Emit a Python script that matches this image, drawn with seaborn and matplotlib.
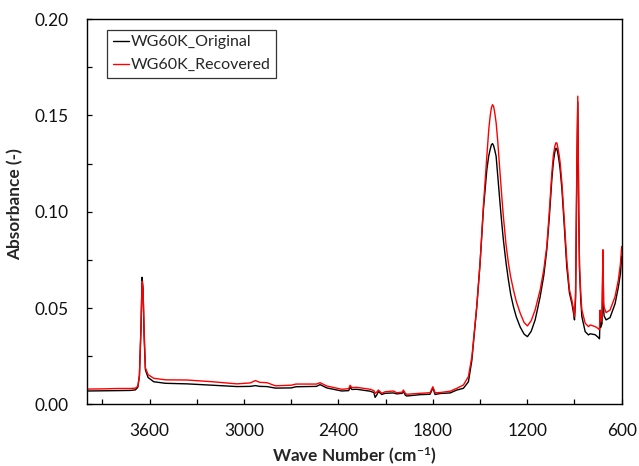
import matplotlib
matplotlib.use("Agg")
import matplotlib.pyplot as plt
import seaborn as sns
import pandas as pd

# FTIR spectra on a shared wave-number grid (cm-1)
wave_number = [
    4000, 3900, 3800, 3720, 3690, 3675, 3665, 3655, 3648, 3642, 3635, 3627,
    3610, 3574, 3500, 3362, 3200, 3045, 2960, 2928, 2900, 2854, 2801, 2700,
    2670, 2540, 2517, 2474, 2379, 2335, 2326, 2315, 2284, 2199, 2175, 2167,
    2156, 2146, 2125, 2104, 2051, 2030, 1995, 1987, 1975, 1966, 1881, 1818,
    1800, 1786, 1754, 1690, 1648, 1606, 1574, 1552, 1521, 1500, 1479, 1457,
    1445, 1436, 1428, 1421, 1414, 1406, 1398, 1388, 1373, 1362, 1352, 1335,
    1320, 1305, 1288, 1270, 1245, 1220, 1199, 1175, 1150, 1135, 1118, 1095,
    1076, 1060, 1044, 1034, 1025, 1018, 1012, 1005, 998, 991, 980, 965, 949,
    932, 917, 905, 900, 893, 885, 879, 873, 868, 860, 853, 832, 811, 800,
    768, 745, 741, 737, 733, 725, 719, 715, 712, 699, 674, 642, 621, 608, 600,
]

# Absorbance of the original sample
abs_original = [
    0.0070, 0.0071, 0.0072, 0.0073, 0.0076, 0.0090, 0.0150, 0.0400, 0.0660,
    0.0600, 0.0350, 0.0180, 0.0140, 0.0118, 0.0110, 0.0107, 0.0100, 0.0093,
    0.0094, 0.0098, 0.0094, 0.0093, 0.0085, 0.0086, 0.0092, 0.0094, 0.0103,
    0.0086, 0.0070, 0.0072, 0.0090, 0.0078, 0.0079, 0.0069, 0.0062, 0.0037,
    0.0050, 0.0068, 0.0052, 0.0058, 0.0060, 0.0055, 0.0058, 0.0068, 0.0048,
    0.0044, 0.0051, 0.0053, 0.0086, 0.0052, 0.0057, 0.0060, 0.0075, 0.0084,
    0.0118, 0.0231, 0.0508, 0.0734, 0.1011, 0.1219,
    0.1290, 0.1323, 0.1348, 0.1354, 0.1343, 0.1318, 0.1288, 0.1190, 0.1043,
    0.0940, 0.0855, 0.0735, 0.0647, 0.0570, 0.0508, 0.0455, 0.0402, 0.0365,
    0.0352, 0.0380, 0.0439, 0.0495, 0.0560, 0.0670, 0.0803, 0.0970, 0.1167,
    0.1260, 0.1310, 0.1330, 0.1328, 0.1300, 0.1265, 0.1219, 0.1120, 0.0930,
    0.0716, 0.0578, 0.0526, 0.0470, 0.0439, 0.0550, 0.1200, 0.1570, 0.1000,
    0.0700, 0.0540, 0.0456, 0.0378, 0.0361, 0.0367, 0.0362, 0.0345, 0.0341,
    0.0471, 0.0400, 0.0420, 0.0780, 0.0500, 0.0460, 0.0439, 0.0451, 0.0523,
    0.0610, 0.0680, 0.0770,
]

# Absorbance of the recovered sample
abs_recovered = [
    0.0080, 0.0081, 0.0083, 0.0083, 0.0085, 0.0095, 0.0150, 0.0400, 0.0640,
    0.0600, 0.0380, 0.0190, 0.0155, 0.0136, 0.0128, 0.0127, 0.0118, 0.0107,
    0.0112, 0.0124, 0.0115, 0.0113, 0.0097, 0.0100, 0.0106, 0.0106, 0.0113,
    0.0096, 0.0079, 0.0082, 0.0100, 0.0088, 0.0089, 0.0079, 0.0072, 0.0058,
    0.0065, 0.0075, 0.0058, 0.0066, 0.0070, 0.0061, 0.0064, 0.0075, 0.0058,
    0.0053, 0.0058, 0.0061, 0.0092, 0.0061, 0.0062, 0.0069, 0.0084, 0.0101,
    0.0145, 0.0248, 0.0508, 0.0734, 0.1028, 0.1288,
    0.1425, 0.1496, 0.1540, 0.1556, 0.1547, 0.1510, 0.1462, 0.1370, 0.1200,
    0.1080, 0.0976, 0.0830, 0.0734, 0.0660, 0.0595, 0.0535, 0.0474, 0.0425,
    0.0408, 0.0435, 0.0491, 0.0540, 0.0595, 0.0700, 0.0820, 0.1000, 0.1200,
    0.1295, 0.1340, 0.1358, 0.1357, 0.1330, 0.1298, 0.1254, 0.1150, 0.0960,
    0.0750, 0.0595, 0.0543, 0.0490, 0.0456, 0.0580, 0.1250, 0.1600, 0.1000,
    0.0720, 0.0575, 0.0490, 0.0422, 0.0404, 0.0413, 0.0404, 0.0392, 0.0388,
    0.0490, 0.0430, 0.0460, 0.0803, 0.0530, 0.0506, 0.0477, 0.0490, 0.0560,
    0.0647, 0.0730, 0.0820,
]

series_names = ["WG60K_Original", "WG60K_Recovered"]
series_colors = ["#000000", "#ff0000"]

x_major = [3600, 3000, 2400, 1800, 1200, 600]
x_minor = [3900, 3300, 2700, 2100, 1500, 900]
y_major = [0.00, 0.05, 0.10, 0.15, 0.20]
y_minor = [0.025, 0.075, 0.125, 0.175]

sns.set_style("ticks")
plt.rcParams["font.family"] = ["Lato", "DejaVu Sans"]
plt.rcParams["mathtext.default"] = "regular"

df = pd.concat([
    pd.DataFrame({"wn": wave_number, "A": abs_original, "Sample": series_names[0]}),
    pd.DataFrame({"wn": wave_number, "A": abs_recovered, "Sample": series_names[1]}),
])

fig = plt.figure(figsize=(6.39, 4.66), dpi=100)
ax = fig.add_axes([0.1357, 0.132, 0.8372, 0.827])

sns.lineplot(data=df, x="wn", y="A", hue="Sample", palette=series_colors,
             hue_order=series_names, linewidth=1.0, ax=ax, legend=False,
             estimator=None, sort=True)

ax.set_xlim(4000, 600)
ax.set_ylim(0, 0.20)
ax.set_xticks(x_major)
ax.set_xticks(x_minor, minor=True)
ax.set_xticklabels([str(v) for v in x_major])
ax.set_yticks(y_major)
ax.set_yticks(y_minor, minor=True)
ax.set_yticklabels([f"{v:.2f}" for v in y_major])

for s in ax.spines.values():
    s.set_visible(True)
    s.set_linewidth(1.0)
    s.set_color("black")

ax.tick_params(axis="both", which="both", direction="in", length=3.6,
               width=0.9, color="black", labelsize=12.4, labelcolor="#111111")
ax.tick_params(axis="x", which="major", pad=13)
ax.tick_params(axis="y", which="major", pad=13)

ax.set_xlabel("Wave Number (cm$^{-1}$)", fontsize=12.4, fontweight="bold",
              labelpad=5)
ax.set_ylabel("Absorbance (-)", fontsize=12.4, fontweight="bold")
ax.yaxis.set_label_coords(-0.118, 0.52)

handles = [plt.Line2D([], [], color=c, lw=1.0) for c in series_colors]
leg = ax.legend(handles, series_names, loc="upper left",
                bbox_to_anchor=(0.038, 0.973), borderaxespad=0,
                fontsize=11.5, frameon=True, fancybox=False,
                handlelength=1.0, handletextpad=0.15, labelspacing=0.55,
                borderpad=0.35)
leg.get_frame().set_edgecolor("black")
leg.get_frame().set_linewidth(0.9)

fig.savefig("out.png", dpi=100, facecolor="white")
